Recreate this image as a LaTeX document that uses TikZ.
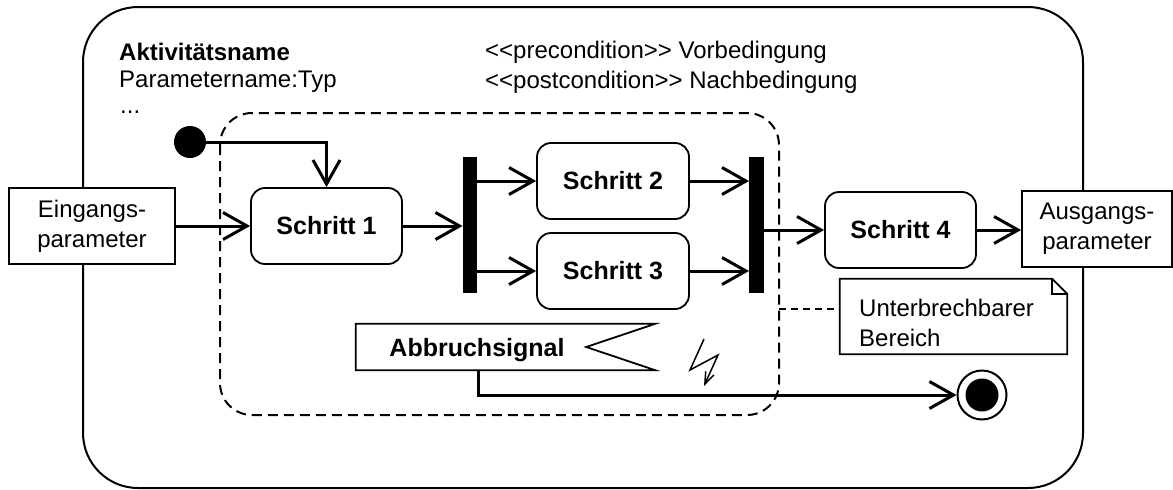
\documentclass[tikz,border=0pt]{standalone}
\usepackage{fontspec}
\setmainfont{Liberation Sans}
\usetikzlibrary{arrows.meta}
\begin{document}
\begin{tikzpicture}[x=1pt,y=-1pt,
  txt/.style={font=\fontsize{24}{30}\selectfont,inner sep=0pt},
  act/.style={draw,line width=1.8pt,rounded corners=14pt,font=\bfseries\fontsize{25}{30}\selectfont,inner sep=0pt,minimum width=151pt,minimum height=76pt},
  parbox/.style={draw,line width=1.8pt,font=\fontsize{24}{30}\selectfont,align=center,inner sep=0pt,fill=white},
  bar/.style={fill=black,inner sep=0pt,minimum width=14.5pt,minimum height=136pt},
  flow/.style={line width=3pt,-{Straight Barb[length=24pt,width=27pt,line width=3pt]}},
  region/.style={line width=2pt,dash pattern=on 10pt off 6pt,rounded corners=32pt},
  frame/.style={line width=2pt,rounded corners=55pt}
]
\useasboundingbox (0,0) rectangle (1173,490);
% outer activity frame
\draw[frame] (83,7) rectangle (1083,488);
% header texts
\node[txt,anchor=west,font=\bfseries\fontsize{24}{30}\selectfont] (aname) at (119,52) {Aktivitätsname};
\node[txt,anchor=west] (pname) at (119,82) {Parametername:Typ};
\node[txt,anchor=west] (dots) at (120,112) {...};
\node[txt,anchor=west] (pre) at (485,52) {<{}<precondition>{}> Vorbedingung};
\node[txt,anchor=west] (post) at (485,82) {<{}<postcondition>{}> Nachbedingung};
% interruptible region
\draw[region] (220,113) rectangle (779,415);
% nodes
\node[parbox,minimum width=166pt,minimum height=76pt] (in) at (92,226) {Eingangs-\\parameter};
\node[parbox,minimum width=150pt,minimum height=76pt] (out) at (1097,229) {Ausgangs-\\parameter};
\node[act] (s1) at (326.5,226) {Schritt 1};
\node[act,minimum width=152pt] (s2) at (613,181) {Schritt 2};
\node[act,minimum width=152pt] (s3) at (613,271) {Schritt 3};
\node[act] (s4) at (900.5,230) {Schritt 4};
\node[bar] (fork) at (470,225) {};
\node[bar] (join) at (756.5,225) {};
\node[circle,fill=black,minimum size=32pt,inner sep=0pt] (init) at (190,142) {};
\node[circle,draw,line width=2pt,minimum size=49pt,inner sep=0pt] (final) at (982,395) {};
\fill (final.center) circle (16.5pt);
% note
\node[minimum width=227pt,minimum height=75pt,inner sep=0pt] (note) at (953.5,316.5) {};
\draw[line width=1.8pt,fill=white] (note.north west) -- ([xshift=-15pt]note.north east) -- ([yshift=-15pt]note.north east) -- (note.south east) -- (note.south west) -- cycle;
\draw[line width=1.5pt] ([xshift=-15pt]note.north east) -- ([xshift=-15pt,yshift=-15pt]note.north east) -- ([yshift=-15pt]note.north east);
\node[txt,anchor=west,align=left] (notetext) at (859,323) {Unterbrechbarer\\Bereich};
\draw[line width=1.5pt,dash pattern=on 7pt off 5pt] (779,309) coordinate (rg) -- (rg -| note.west);
% accept event signal
\node[minimum width=299pt,minimum height=46pt,inner sep=0pt] (sig) at (505.5,347) {};
\draw[line width=1.8pt] (sig.north west) -- (sig.north east) -- ([xshift=-69pt]sig.east) -- (sig.south east) -- (sig.south west) -- cycle;
\node[font=\bfseries\fontsize{25}{30}\selectfont,inner sep=0pt] (sigtext) at (477,350) {Abbruchsignal};
% lightning
\draw[line width=1.5pt,-{Straight Barb[length=12pt,width=9pt]}] (704,339) -- (690,370) -- (718,355) -- (704,386);
% flows
\draw[flow] (init.east) -| (s1.north);
\draw[flow] (in.east) -- (s1.west);
\draw[flow] (s1.east) -- (s1.east -| fork.west);
\draw[flow] (s2.west -| fork.east) -- (s2.west);
\draw[flow] (s3.west -| fork.east) -- (s3.west);
\draw[flow] (s2.east) -- (s2.east -| join.west);
\draw[flow] (s3.east) -- (s3.east -| join.west);
\draw[flow] (s4.west -| join.east) -- (s4.west);
\draw[flow] (s4.east) -- (s4.east -| out.west);
\coordinate (sigout) at (sig.south -| 478,0);
\draw[flow] (sigout) |- (final.west);
\end{tikzpicture}
\end{document}
